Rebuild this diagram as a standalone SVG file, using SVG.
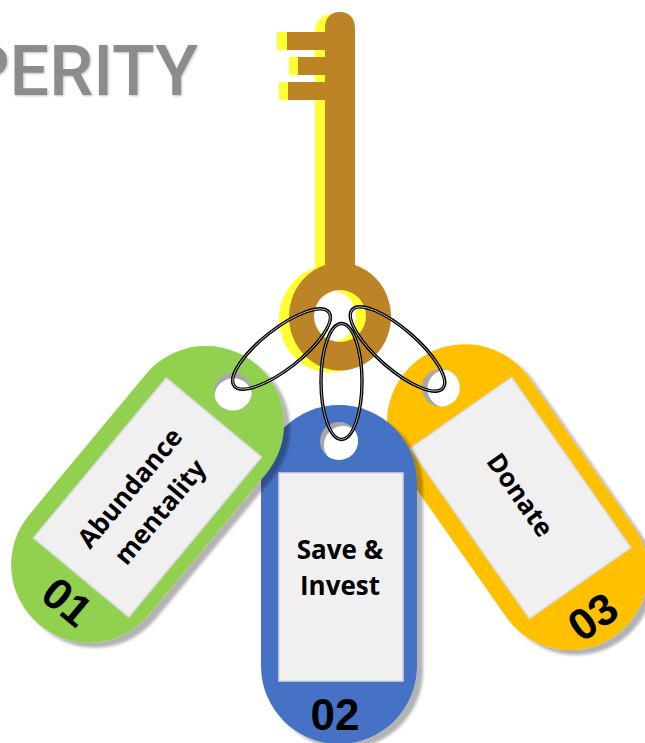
<svg xmlns="http://www.w3.org/2000/svg" xmlns:xlink="http://www.w3.org/1999/xlink" width="645" height="743" viewBox="0 0 645 743">
  <style>
    .lbl { font-family: "Open Sans", "Lato", "Liberation Sans", sans-serif; font-weight: 700; fill: #000; text-anchor: middle; }
    .t { font-size: 26px; }
    .n { font-family: "Liberation Sans", sans-serif; font-size: 44px; font-weight: 700; fill: #000; text-anchor: middle; }
    .card { fill: #f0f0f0; stroke: #d8d8d8; stroke-width: 1.5; }
    .hole { fill: #fff; }
    .holeShade { fill: #a8a8a8; }
    .outer { fill: none; stroke: #000; stroke-width: 3.4; }
    .inner { fill: none; stroke: #d0d0d0; stroke-width: 0.8; }
  </style>
  <defs>
    <filter id="shadow" x="-15%" y="-15%" width="130%" height="130%">
      <feGaussianBlur in="SourceAlpha" stdDeviation="1.6" result="b"/>
      <feOffset in="b" dx="6" dy="5" result="o"/>
      <feFlood flood-color="#000" flood-opacity="0.3"/>
      <feComposite in2="o" operator="in" result="s"/>
      <feMerge><feMergeNode in="s"/><feMergeNode in="SourceGraphic"/></feMerge>
    </filter>
    <filter id="soft" x="-5%" y="-5%" width="110%" height="110%">
      <feGaussianBlur stdDeviation="0.6"/>
    </filter>
    <filter id="titleShade" x="-5%" y="-10%" width="110%" height="125%">
      <feGaussianBlur in="SourceAlpha" stdDeviation="1" result="b"/>
      <feOffset in="b" dx="1" dy="1" result="o"/>
      <feFlood flood-color="#000" flood-opacity="0.25"/>
      <feComposite in2="o" operator="in" result="s"/>
      <feGaussianBlur in="SourceGraphic" stdDeviation="0.6" result="g"/>
      <feMerge><feMergeNode in="s"/><feMergeNode in="g"/></feMerge>
    </filter>
    <clipPath id="holeClip"><circle cx="339" cy="441" r="19"/></clipPath>
    <g id="tag">
      <circle class="holeShade" cx="339" cy="441" r="19"/>
      <circle class="hole" cx="343" cy="445" r="19" clip-path="url(#holeClip)"/>
      <rect class="card" x="279" y="473" width="124" height="208"/>
    </g>
  </defs>

  <text id="title" x="198" y="95" font-family="Roboto, 'Liberation Sans', sans-serif" font-size="70" font-weight="500" fill="#8c8c8c" text-anchor="end" filter="url(#titleShade)">PERITY</text>

  <g id="node-key" filter="url(#soft)">
    <path fill="#ffff33" d="M277 32H315V30C315 22 322 14 332 14H340V272H315V100H279V82H315V75H289V57H315V50H277Z"/>
    <path fill="#ffff33" fill-rule="evenodd" d="M330 265.500A51 53.500 0 1 0 330 372.500A51 53.500 0 1 0 330 265.500ZM330 290A26 26 0 1 1 330 342A26 26 0 1 1 330 290Z"/>
    <path fill="#bc8427" fill-rule="evenodd" d="M325 32V28C325 18 331 12 340 12C349 12 355 18 355 28V265A51 54 0 1 1 325 265V100H288V82H325V75H298V57H325V50H287V32ZM340 290A26 26 0 1 0 340 342A26 26 0 1 0 340 290Z"/>
  </g>

  <g id="node-03" filter="url(#shadow)">
    <g transform="translate(520.500 498) rotate(-35) translate(-341 -577)">
      <path fill="#ffc000" d="M339 405A78 78 0 0 1 417 483V666A78 78 0 0 1 261 666V483A78 78 0 0 1 339 405Z"/>
      <use href="#tag" xlink:href="#tag"/>
    </g>
  </g>
  <g id="node-02" filter="url(#shadow)">
    <path fill="#4472c4" d="M339 405A78 78 0 0 1 417 483V666A78 78 0 0 1 261 666V483A78 78 0 0 1 339 405Z"/>
    <use href="#tag" xlink:href="#tag"/>
  </g>
  <g id="node-01" filter="url(#shadow)">
    <g transform="translate(147.500 497.500) rotate(39.700) translate(-341 -577)">
      <path fill="#92d050" d="M339 405A78 78 0 0 1 417 483V666A78 78 0 0 1 261 666V483A78 78 0 0 1 339 405Z"/>
      <use href="#tag" xlink:href="#tag"/>
    </g>
  </g>

  <g id="labels">
    <text class="lbl t" transform="translate(130 488) rotate(-50.300)" y="9">Abundance</text>
    <text class="lbl t" transform="translate(160 512) rotate(-50.300)" y="9">mentality</text>
    <text class="n" transform="translate(67 602) rotate(39.700)" y="15">01</text>
    <text class="lbl t" x="340" y="559">Save &amp;</text>
    <text class="lbl t" x="340" y="595">Invest</text>
    <text class="n" x="335" y="730">02</text>
    <text class="lbl t" transform="translate(520 495) rotate(55)" y="9">Donate</text>
    <text class="n" transform="translate(593 617) rotate(-35)" y="15">03</text>
  </g>

  <g id="connectors">
    <ellipse class="outer" cx="281.500" cy="349" rx="60" ry="20" transform="rotate(-38 281.500 349)"/>
    <ellipse class="inner" cx="281.500" cy="349" rx="60" ry="20" transform="rotate(-38 281.500 349)"/>
    <ellipse class="outer" cx="341.500" cy="381.500" rx="20.500" ry="58"/>
    <ellipse class="inner" cx="341.500" cy="381.500" rx="20.500" ry="58"/>
    <ellipse class="outer" cx="397.500" cy="349" rx="60" ry="20" transform="rotate(41 397.500 349)"/>
    <ellipse class="inner" cx="397.500" cy="349" rx="60" ry="20" transform="rotate(41 397.500 349)"/>
  </g>
</svg>
